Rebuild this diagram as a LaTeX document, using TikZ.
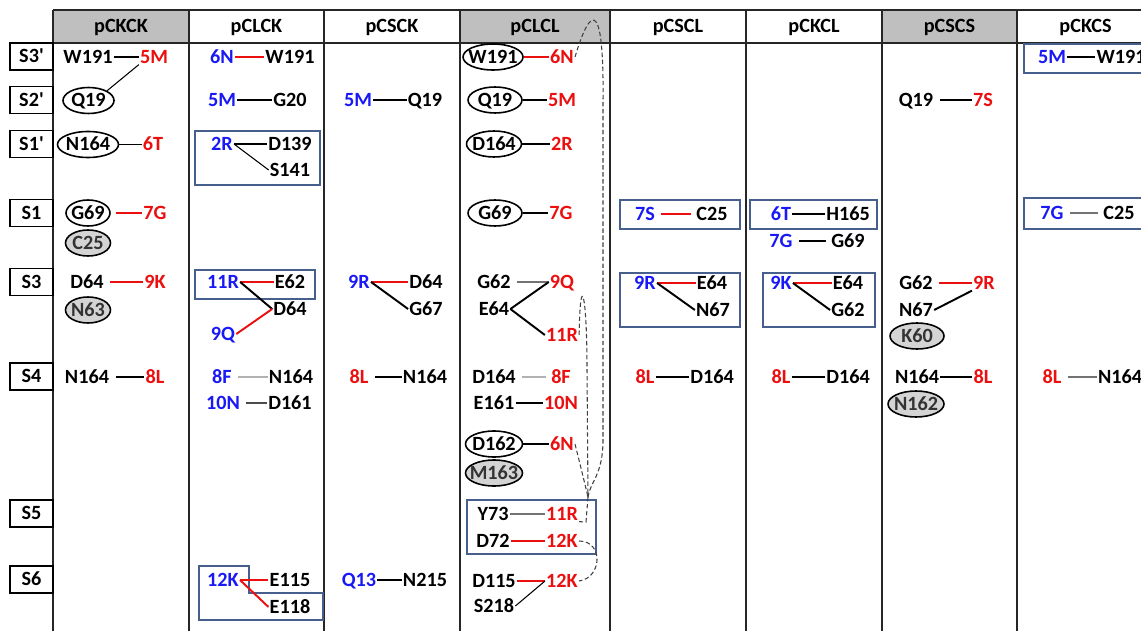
\documentclass[tikz,border=0pt]{standalone}
\usepackage{fontspec}
\setmainfont{Carlito}
\usetikzlibrary{shapes.geometric}

\definecolor{mutred}{RGB}{235,15,15}
\definecolor{mutblue}{RGB}{25,25,245}
\definecolor{boxblue}{RGB}{70,95,140}
\definecolor{headgray}{RGB}{191,191,191}
\definecolor{ovalgray}{RGB}{212,212,212}

\tikzset{
  lbl/.style={inner sep=0.5pt, text height=7.3pt, text depth=0pt,
    font=\fontsize{11.5}{13}\selectfont\bfseries},
  aa/.style={lbl, text=black},
  mutr/.style={lbl, text=mutred},
  mutb/.style={lbl, text=mutblue},
  oval/.style={lbl, ellipse, draw, line width=0.9pt, fill=white,
    inner xsep=-4pt, inner ysep=0pt, minimum height=0.52cm, minimum width=#1},
  goval/.style={oval=#1, fill=ovalgray, text=black!80},
  rowlbl/.style={lbl, draw, line width=1pt, minimum width=0.86cm, minimum height=0.54cm},
  frame/.style={draw=black!85, line width=1pt},
  grp/.style={draw=boxblue, line width=1.4pt},
  bk/.style={draw=black, line width=1.1pt},
  rd/.style={draw=mutred, line width=1.1pt},
  tn/.style={draw=black, line width=0.6pt},
  lg/.style={draw=black!30, line width=0.9pt},
  gm/.style={draw=black!55, line width=0.8pt},
  dg/.style={draw=black!70, line width=1pt},
  gapl/.style={shorten <=3pt},
  gapr/.style={shorten >=2.5pt},
  dsh/.style={draw=black!75, line width=0.6pt, dash pattern=on 2.5pt off 1.5pt}
}

\begin{document}
\begin{tikzpicture}[x=0.02cm, y=-0.02cm]
\useasboundingbox (0,0) rectangle (1141,631);
\clip (0,0) rectangle (1141,631);

%table
\fill[headgray] (53,10) rectangle (189,43);
\fill[headgray] (460,10) rectangle (610,43);
\fill[headgray] (882,10) rectangle (1017,43);
\draw[frame] (53,10) -- (1170,10);
\draw[frame] (53,43) -- (1170,43);
\foreach \x in {53,189,324,460,610,746,882,1017}
  \draw[frame] (\x,10) -- (\x,640);

\node[aa] (h_pCKCK) at (121,26) {pCKCK};
\node[aa] (h_pCLCK) at (256.5,26) {pCLCK};
\node[aa] (h_pCSCK) at (392,26) {pCSCK};
\node[aa] (h_pCLCL) at (535,26) {pCLCL};
\node[aa] (h_pCSCL) at (678,26) {pCSCL};
\node[aa] (h_pCKCL) at (814,26) {pCKCL};
\node[aa] (h_pCSCS) at (949.5,26) {pCSCS};
\node[aa] (h_pCKCS) at (1085.5,26) {pCKCS};

%rows
\node[rowlbl] (r_S3p) at (31.5,56.5) {S3\textquotesingle};
\node[rowlbl] (r_S2p) at (31.5,100) {S2\textquotesingle};
\node[rowlbl] (r_S1p) at (31.5,144) {S1\textquotesingle};
\node[rowlbl] (r_S1) at (31.5,213) {S1};
\node[rowlbl] (r_S3) at (31.5,282) {S3};
\node[rowlbl] (r_S4) at (31.5,376.5) {S4};
\node[rowlbl] (r_S5) at (31.5,513.5) {S5};
\node[rowlbl] (r_S6) at (31.5,579.5) {S6};

%boxes
\draw[grp] (195,131) rectangle (320,185);
\draw[grp] (195,270) rectangle (315,299);
\draw[grp] (199,566) -- (249,566) -- (249,593) -- (323,593) -- (323,620) -- (199,620) -- cycle;
\draw[grp] (467,500) rectangle (596,554);
\draw[grp] (620,200) rectangle (740,229);
\draw[grp] (620,273) rectangle (740,327);
\draw[grp] (750,200) rectangle (877,229);
\draw[grp] (763,273) rectangle (875,327);
\draw[grp] (1024,44) rectangle (1170,73);
\draw[grp] (1024,198) rectangle (1170,229);

%pCKCK
\node[aa] (c1_W191) at (88,57) {W191};
\node[mutr] (c1_5M) at (154,57) {5M};
\node[oval=1.02cm] (c1_Q19) at (88.5,100.5) {Q19};
\node[oval=1.22cm] (c1_N164a) at (88,144.5) {N164};
\node[mutr] (c1_6T) at (153,144.5) {6T};
\node[oval=0.88cm] (c1_G69) at (88,213) {G69};
\node[mutr] (c1_7G) at (155,213) {7G};
\node[goval=0.9cm] (c1_C25) at (88,243) {C25};
\node[aa] (c1_D64) at (87,282) {D64};
\node[mutr] (c1_9K) at (155,282) {9K};
\node[goval=0.9cm] (c1_N63) at (88,310) {N63};
\node[aa] (c1_N164b) at (87,377) {N164};
\node[mutr] (c1_8L) at (155,377) {8L};

%pCLCK
\node[mutb] (c2_6N) at (222,57) {6N};
\node[aa] (c2_W191) at (290,57) {W191};
\node[mutb] (c2_5M) at (222,100) {5M};
\node[aa] (c2_G20) at (290,100) {G20};
\node[mutb] (c2_2R) at (222,144) {2R};
\node[aa] (c2_D139) at (290,144) {D139};
\node[aa] (c2_S141) at (290,170) {S141};
\node[mutb] (c2_11R) at (223,282) {11R};
\node[aa] (c2_E62) at (290,282) {E62};
\node[aa] (c2_D64) at (290,309) {D64};
\node[mutb] (c2_9Q) at (223,334) {9Q};
\node[mutb] (c2_8F) at (222,377) {8F};
\node[aa] (c2_N164) at (291,377) {N164};
\node[mutb] (c2_10N) at (223,403) {10N};
\node[aa] (c2_D161) at (290,403) {D161};
\node[mutb] (c2_12K) at (223,580) {12K};
\node[aa] (c2_E115) at (290,580) {E115};
\node[aa] (c2_E118) at (290,607) {E118};

%pCSCK
\node[mutb] (c3_5M) at (358,100) {5M};
\node[aa] (c3_Q19) at (425,100) {Q19};
\node[mutb] (c3_9R) at (359,282) {9R};
\node[aa] (c3_D64) at (426,282) {D64};
\node[aa] (c3_G67) at (426,309) {G67};
\node[mutr] (c3_8L) at (359,377) {8L};
\node[aa] (c3_N164) at (425,377) {N164};
\node[mutb] (c3_Q13) at (359,580) {Q13};
\node[aa] (c3_N215) at (425,580) {N215};

%pCLCL
\node[oval=1.2cm] (c4_W191) at (493,57) {W191};
\node[mutr] (c4_6Na) at (562,57) {6N};
\node[oval=1.08cm] (c4_Q19) at (495,100) {Q19};
\node[mutr] (c4_5M) at (562,100) {5M};
\node[oval=1.1cm] (c4_D164a) at (494,144) {D164};
\node[mutr] (c4_2R) at (562,144) {2R};
\node[oval=1.08cm] (c4_G69) at (495,213) {G69};
\node[mutr] (c4_7G) at (561,213) {7G};
\node[aa] (c4_G62) at (494,282) {G62};
\node[mutr] (c4_9Q) at (562,282) {9Q};
\node[aa] (c4_E64) at (494,309) {E64};
\node[mutr] (c4_11Ra) at (562,335) {11R};
\node[aa] (c4_D164b) at (494,377) {D164};
\node[mutr] (c4_8F) at (561,377) {8F};
\node[aa] (c4_E161) at (494,403) {E161};
\node[mutr] (c4_10N) at (561,403) {10N};
\node[oval=1.14cm] (c4_D162) at (494,444) {D162};
\node[mutr] (c4_6Nb) at (562,444) {6N};
\node[goval=1.14cm] (c4_M163) at (494,473) {M163};
\node[aa] (c4_Y73) at (493,514) {Y73};
\node[mutr] (c4_11Rb) at (562,514) {11R};
\node[aa] (c4_D72) at (493,541) {D72};
\node[mutr] (c4_12Ka) at (562,541) {12K};
\node[aa] (c4_D115) at (494,581) {D115};
\node[mutr] (c4_12Kb) at (562,581) {12K};
\node[aa] (c4_S218) at (494,606) {S218};
\coordinate (c4_join) at (588,497);

%pCSCL
\node[mutb] (c5_7S) at (645,214) {7S};
\node[aa] (c5_C25) at (712,214) {C25};
\node[mutb] (c5_9R) at (645,283) {9R};
\node[aa] (c5_E64) at (712,283) {E64};
\node[aa] (c5_N67) at (713,310) {N67};
\node[mutr] (c5_8L) at (645,377) {8L};
\node[aa] (c5_D164) at (712,377) {D164};

%pCKCL
\node[mutb] (c6_6T) at (781,214) {6T};
\node[aa] (c6_H165) at (848,214) {H165};
\node[mutb] (c6_7G) at (781,241) {7G};
\node[aa] (c6_G69) at (848,241) {G69};
\node[mutb] (c6_9K) at (781,283) {9K};
\node[aa] (c6_E64) at (848,283) {E64};
\node[aa] (c6_G62) at (848,310) {G62};
\node[mutr] (c6_8L) at (781,377) {8L};
\node[aa] (c6_D164) at (848,377) {D164};

%pCSCS
\node[aa] (c7_Q19) at (916,100) {Q19};
\node[mutr] (c7_7S) at (983,100) {7S};
\node[aa] (c7_G62) at (916,283) {G62};
\node[mutr] (c7_9R) at (984,283) {9R};
\node[aa] (c7_N67) at (916,310) {N67};
\node[goval=1.08cm] (c7_K60) at (917,336) {K60};
\node[aa] (c7_N164) at (917,377) {N164};
\node[mutr] (c7_8L) at (983,377) {8L};
\node[goval=1.12cm] (c7_N162) at (916,404) {N162};

%pCKCS
\node[mutb] (c8_5M) at (1052,57) {5M};
\node[aa] (c8_W191) at (1121,57) {W191};
\node[mutb] (c8_7G) at (1052,213) {7G};
\node[aa] (c8_C25) at (1119,213) {C25};
\node[mutr] (c8_8L) at (1052,377) {8L};
\node[aa] (c8_N164) at (1120,377) {N164};

%links pCKCK
\path [bk] (c1_W191) edge (c1_5M);
\path [tn] (c1_5M.south west) edge (c1_Q19.north east);
\path [bk] (c1_N164a) edge (c1_6T);
\path [rd, gapl] (c1_G69) edge (c1_7G);
\path [rd, gapl] (c1_D64) edge (c1_9K);
\path [bk, gapl] (c1_N164b) edge (c1_8L);

%links pCLCK
\path [rd] (c2_6N) edge (c2_W191);
\path [bk] (c2_5M) edge (c2_G20);
\path [tn] (c2_2R.east) edge (c2_D139.west);
\path [tn] (c2_2R.east) edge (c2_S141.west);
\path [rd] (c2_11R.east) edge (c2_E62.west);
\path [bk] (c2_11R.east) edge (c2_D64.west);
\path [rd] (c2_D64.west) edge (c2_9Q.east);
\path [lg, gapl] (c2_8F) edge (c2_N164);
\path [dg, gapl] (c2_10N) edge (c2_D161);
\path [rd] (c2_E115.west) edge (c2_12K.east);
\path [rd] (c2_12K.east) edge (c2_E118.west);

%links pCSCK
\path [bk] (c3_5M) edge (c3_Q19);
\path [rd] (c3_9R.east) edge (c3_D64.west);
\path [bk] (c3_9R.east) edge (c3_G67.west);
\path [bk, gapl] (c3_8L) edge (c3_N164);
\path [bk] (c3_Q13) edge (c3_N215);

%links pCLCL
\path [rd] (c4_W191) edge (c4_6Na);
\path [bk] (c4_Q19) edge (c4_5M);
\path [bk] (c4_D164a) edge (c4_2R);
\path [bk] (c4_G69) edge (c4_7G);
\path [gm, gapl] (c4_G62) edge (c4_9Q);
\path [bk] (c4_E64.east) edge (c4_9Q.west);
\path [bk] (c4_E64.east) edge (c4_11Ra.west);
\path [lg, gapl, gapr] (c4_D164b) edge (c4_8F);
\path [bk] (c4_E161) edge (c4_10N);
\path [bk] (c4_D162) edge (c4_6Nb);
\path [gm] (c4_Y73) edge (c4_11Rb);
\path [rd] (c4_D72) edge (c4_12Ka);
\path [rd] (c4_D115) edge (c4_12Kb);
\path [tn] (c4_12Kb.west) edge (c4_S218.east);

\draw[dsh] (c4_6Na.east) .. controls (592,0) and (604,5) .. (603,100) -- (603,440)
  .. controls (603,475) and (590,482) .. (c4_join);
\draw[dsh] (c4_11Ra.east) .. controls (580,270) and (587,290) .. (587,370) -- (c4_join);
\draw[dsh] (c4_6Nb.east) .. controls (581,468) .. (c4_join);
\draw[dsh] (c4_join) -- (586,522) -- (c4_11Rb.south east);
\draw[dsh] (c4_12Ka.east) .. controls (604,541) and (602,578) .. (c4_12Kb.east);

%links pCSCL
\path [rd, gapl, gapr] (c5_7S) edge (c5_C25);
\path [rd] (c5_9R.east) edge (c5_E64.west);
\path [bk] (c5_9R.east) edge (c5_N67.west);
\path [bk] (c5_8L) edge (c5_D164);

%links pCKCL
\path [bk] (c6_6T) edge (c6_H165);
\path [bk, gapl, gapr] (c6_7G) edge (c6_G69);
\path [rd] (c6_9K.east) edge (c6_E64.west);
\path [bk] (c6_9K.east) edge (c6_G62.west);
\path [bk] (c6_8L) edge (c6_D164);

%links pCSCS
\path [bk, gapl] (c7_Q19) edge (c7_7S);
\path [rd, gapl] (c7_G62) edge (c7_9R);
\path [bk] (c7_N67.east) edge (c7_9R.south west);
\path [bk] (c7_N164) edge (c7_8L);

%links pCKCS
\path [bk] (c8_5M) edge (c8_W191);
\path [gm, gapl, gapr] (c8_7G) edge (c8_C25);
\path [gm, gapl] (c8_8L) edge (c8_N164);
\end{tikzpicture}
\end{document}
